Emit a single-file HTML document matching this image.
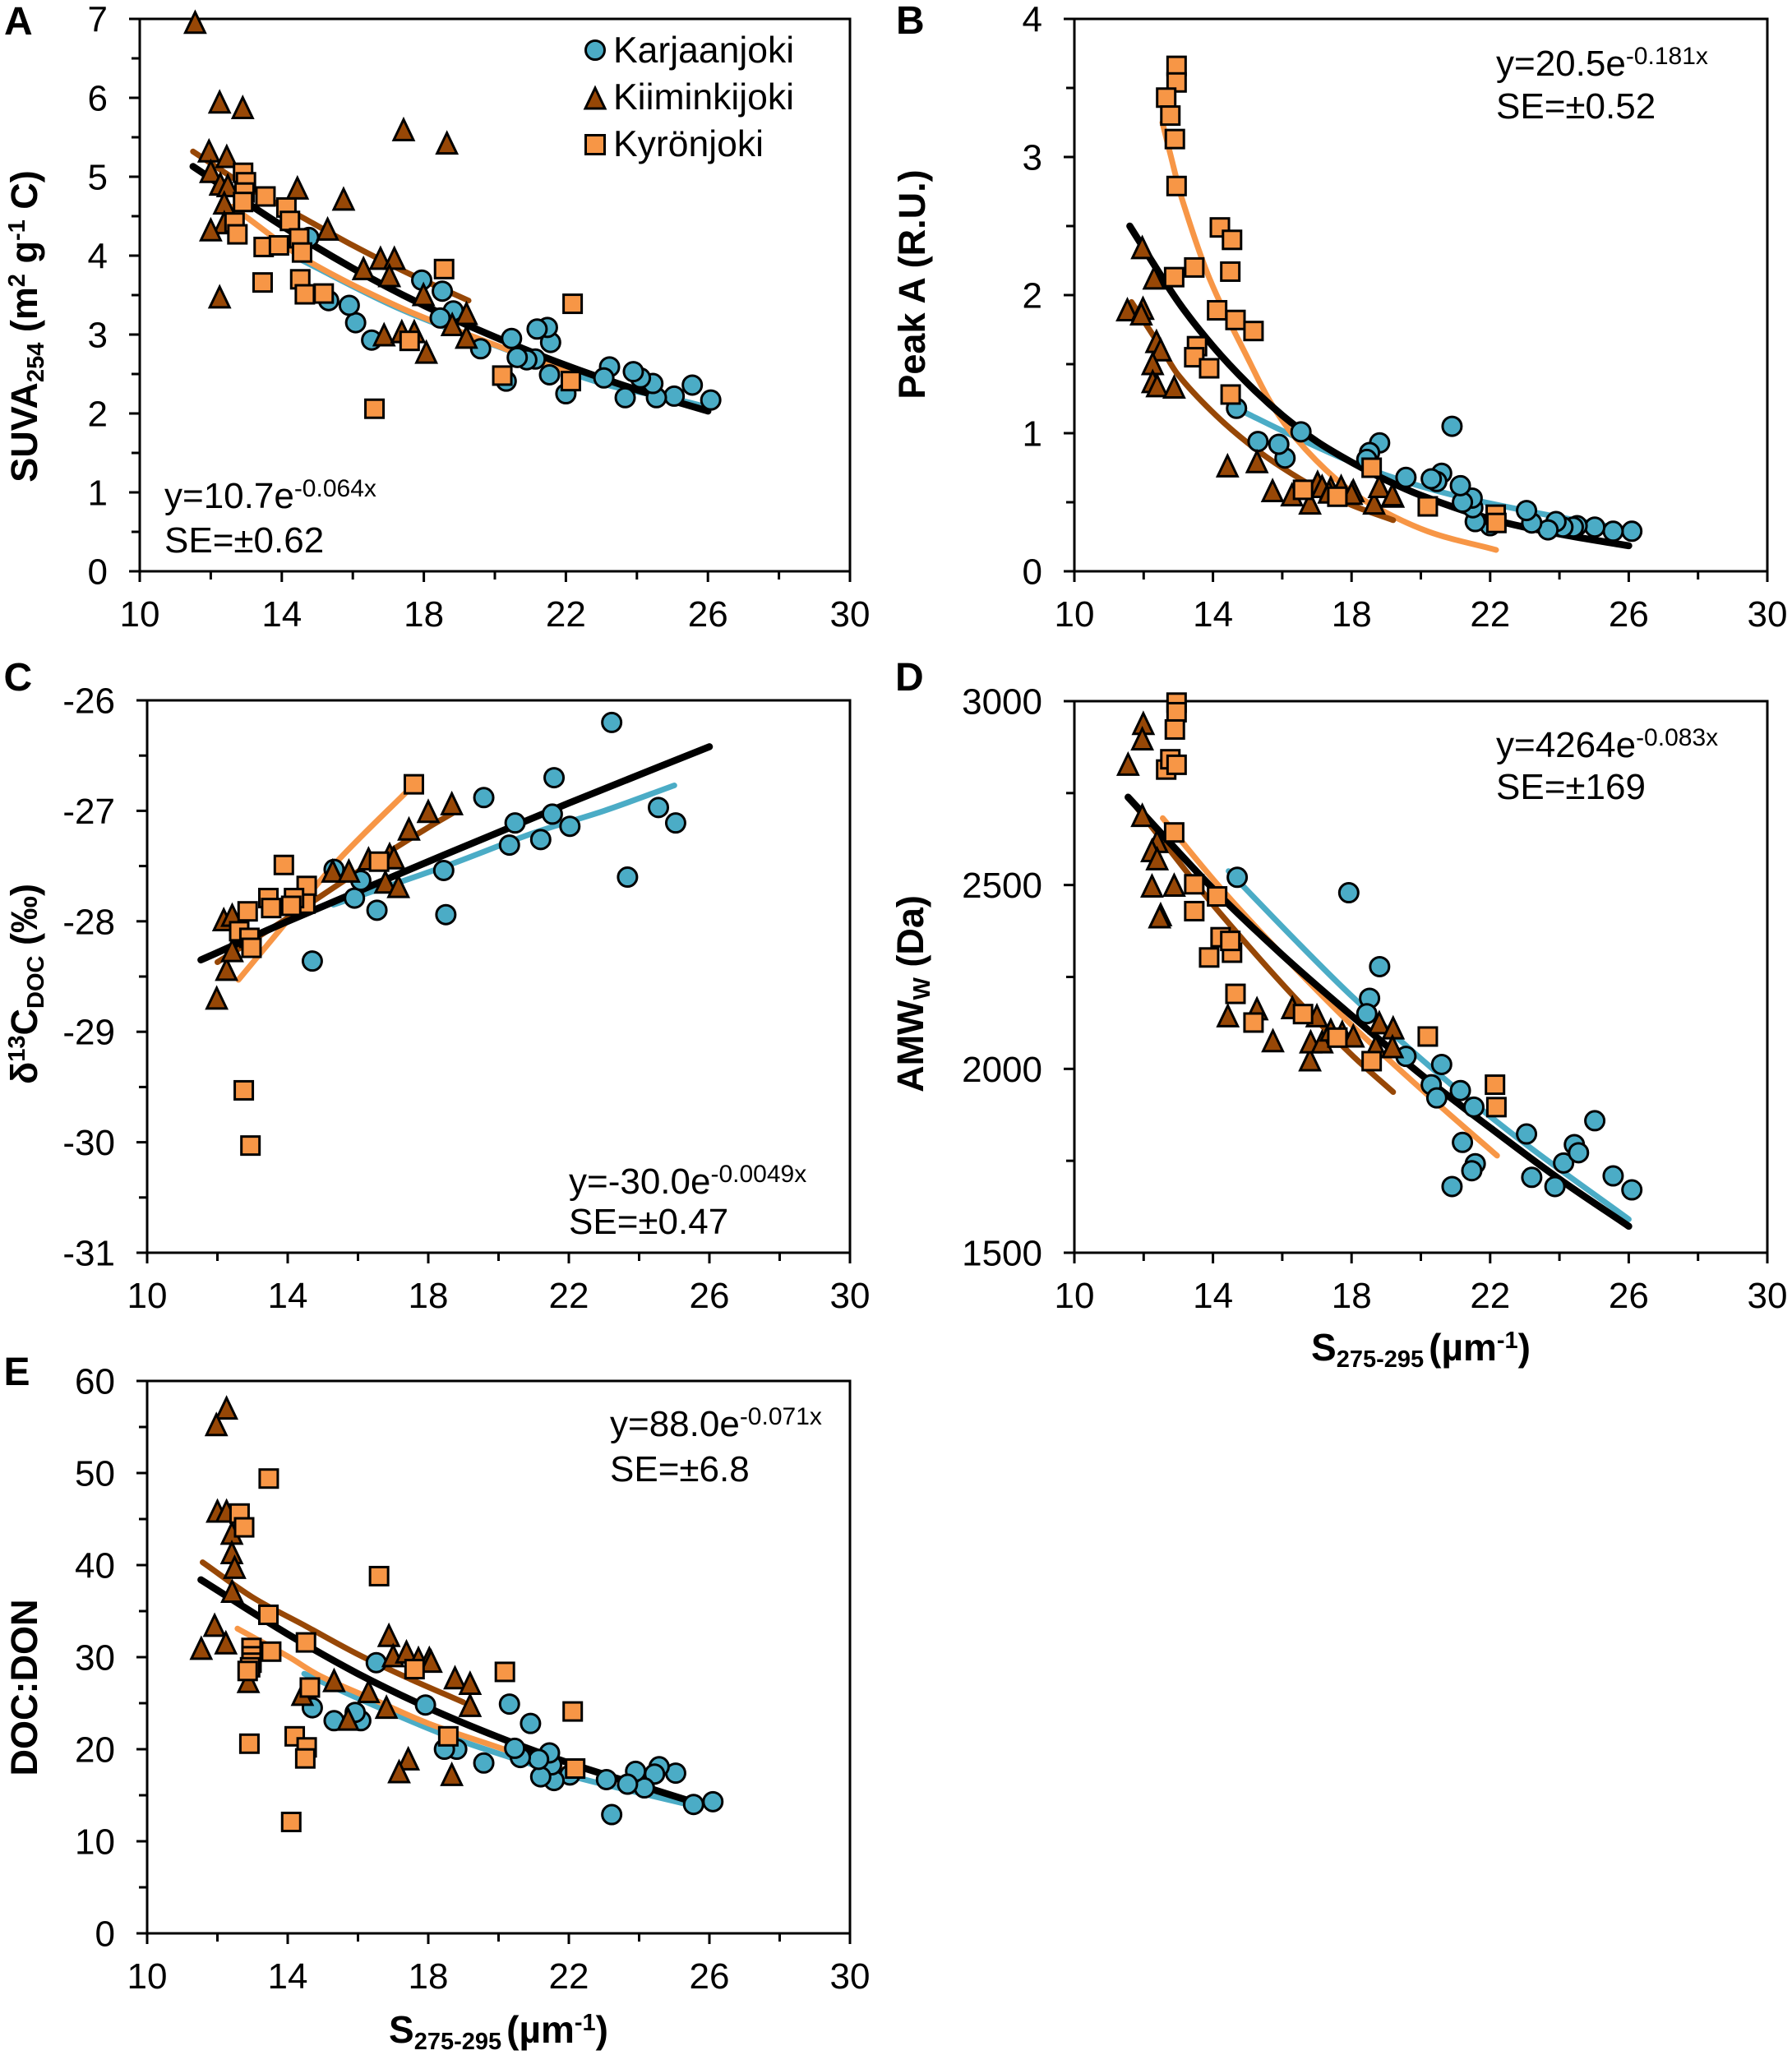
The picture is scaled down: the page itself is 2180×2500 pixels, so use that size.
<!DOCTYPE html>
<html lang="en">
<head>
<meta charset="utf-8">
<title>Optical relationships for Finnish rivers</title>
<style>
html,body{margin:0;padding:0;background:#fff;}
svg{display:block;}
text{font-family:"Liberation Sans",sans-serif;fill:#000;}
.tick{font-size:44px;}
.eq{font-size:44px;}
.sup{font-size:30px;}
.ttl{font-size:45px;font-weight:bold;}
.xttl{font-size:46px;font-weight:bold;}
.sub{font-size:29px;font-weight:bold;}
.let{font-size:48px;font-weight:bold;}
.leg{font-size:44.5px;}
</style>
</head>
<body>
<svg id="chart" xmlns="http://www.w3.org/2000/svg" width="2180" height="2500" viewBox="0 0 2180 2500">
<rect width="2180" height="2500" fill="#fff"/>
<g id="plots"></g>

<text class="let" x="5" y="42">A</text>
<text class="let" x="1090" y="41">B</text>
<text class="let" x="4.5" y="840">C</text>
<text class="let" x="1089" y="840">D</text>
<text class="let" x="4.5" y="1685">E</text>

<text class="ttl" text-anchor="middle" transform="translate(45,397) rotate(-90)">SUVA<tspan class="sub" dy="8">254</tspan><tspan dy="-8"> (m</tspan><tspan class="sub" dy="-15">2</tspan><tspan dy="15"> g</tspan><tspan class="sub" dy="-15">-1</tspan><tspan dy="15"> C)</tspan></text>
<text class="ttl" text-anchor="middle" transform="translate(1125,346) rotate(-90)">Peak A (R.U.)</text>
<text class="ttl" text-anchor="middle" transform="translate(45,1197) rotate(-90)">δ<tspan class="sub" dy="-15">13</tspan><tspan dy="15">C</tspan><tspan class="sub" dy="8">DOC</tspan><tspan dy="-8"> (‰)</tspan></text>
<text class="ttl" text-anchor="middle" transform="translate(1123,1209) rotate(-90)">AMW<tspan class="sub" dy="8">W</tspan><tspan dy="-8"> (Da)</tspan></text>
<text class="ttl" text-anchor="middle" transform="translate(45,2053) rotate(-90)">DOC:DON</text>

<text class="xttl" text-anchor="middle" x="1728.5" y="1655">S<tspan class="sub" dy="8">275-295</tspan><tspan dy="-8" dx="6">(µm</tspan><tspan class="sub" dy="-15">-1</tspan><tspan dy="15">)</tspan></text>
<text class="xttl" text-anchor="middle" x="606.5" y="2485">S<tspan class="sub" dy="8">275-295</tspan><tspan dy="-8" dx="6">(µm</tspan><tspan class="sub" dy="-15">-1</tspan><tspan dy="15">)</tspan></text>

<text class="eq" x="200" y="618">y=10.7e<tspan class="sup" dy="-14">-0.064x</tspan></text>
<text class="eq" x="200" y="672">SE=±0.62</text>
<text class="eq" x="1820" y="92">y=20.5e<tspan class="sup" dy="-14">-0.181x</tspan></text>
<text class="eq" x="1820" y="144">SE=±0.52</text>
<text class="eq" x="692" y="1452">y=-30.0e<tspan class="sup" dy="-14">-0.0049x</tspan></text>
<text class="eq" x="692" y="1501">SE=±0.47</text>
<text class="eq" x="1820" y="921">y=4264e<tspan class="sup" dy="-14">-0.083x</tspan></text>
<text class="eq" x="1820" y="972">SE=±169</text>
<text class="eq" x="742" y="1747">y=88.0e<tspan class="sup" dy="-14">-0.071x</tspan></text>
<text class="eq" x="742" y="1802">SE=±6.8</text>

<g>
<circle cx="724" cy="61" r="11.5" fill="#4bacc6" stroke="#000" stroke-width="3"/>
<polygon points="724,107 736,132 712,132" fill="#974706" stroke="#000" stroke-width="3" stroke-linejoin="miter"/>
<rect x="712.5" y="164.5" width="23" height="23" fill="#f79646" stroke="#000" stroke-width="3"/>
<text class="leg" x="746" y="76">Karjaanjoki</text>
<text class="leg" x="746" y="133">Kiiminkijoki</text>
<text class="leg" x="746" y="190">Kyrönjoki</text>
</g>
</svg>

<script>
// ---------- shared axis data ----------
const xTickLabels = ["10","14","18","22","26","30"];
const xMinorValues = [12,16,20,24,28];

// ---------- panel A: SUVA254 ----------
const aTickLabels = ["0","1","2","3","4","5","6","7"];
const aKarX = [26.08,25.56,25.05,24.55,24.45,24.1,23.9,23.67,23.23,23.07,22.0,21.54,21.57,21.48,21.19,21.14,20.9,20.63,20.47,20.32,19.6,18.83,18.46,18.52,17.94,16.53,16.08,15.9,15.32,14.76];
const aKarY = [2.17,2.36,2.22,2.20,2.38,2.45,2.53,2.20,2.59,2.45,2.25,2.49,2.90,3.09,3.07,2.69,2.68,2.71,2.95,2.41,2.82,3.30,3.21,3.55,3.69,2.93,3.15,3.37,3.43,4.23];
const aKimX = [11.56,12.25,12.9,17.43,18.65,11.95,12.45,12.0,12.27,12.48,12.38,12.38,12.0,12.25,14.44,15.74,15.29,16.3,16.78,17.17,17.03,17.99,19.2,18.8,19.2,16.88,17.38,17.73,18.07];
const aKimY = [6.95,5.94,5.87,5.59,5.42,5.32,5.25,5.06,4.9,4.88,4.66,4.41,4.32,3.47,4.85,4.71,4.33,3.83,3.96,3.96,3.74,3.5,3.26,3.12,2.96,2.99,3.03,3.03,2.77];
const aKyrX = [12.91,12.99,12.95,12.91,13.54,14.13,14.23,12.67,12.75,13.49,13.92,14.49,14.57,13.46,14.52,14.65,15.18,18.57,16.61,17.6,20.21,22.19,22.14];
const aKyrY = [5.05,4.93,4.8,4.68,4.75,4.61,4.44,4.42,4.27,4.11,4.13,4.22,4.04,3.66,3.7,3.51,3.52,3.83,2.06,2.92,2.48,3.39,2.41];
const aFitAllX = [11.5,14,16,18,20,22,24,26];
const aFitAllY = [5.13,4.38,3.84,3.37,2.97,2.61,2.30,2.03];
const aFitKarX = [14.44,17.3,20.2,23.1,25,26];
const aFitKarY = [3.97,3.33,2.83,2.37,2.19,2.08];
const aFitKimX = [11.5,13,14.76,16,17.5,19.26];
const aFitKimY = [5.32,4.88,4.44,4.13,3.79,3.43];
const aFitKyrX = [12.6,13,14.6,17.3,20,22.2];
const aFitKyrY = [4.62,4.49,3.97,3.35,2.87,2.50];

// ---------- panel B: Peak A ----------
const bTickLabels = ["0","1","2","3","4"];
const bKarX = [26.09,25.55,25.02,24.51,24.4,24.1,23.9,23.67,23.2,23.05,22.0,21.57,21.5,21.48,21.2,21.14,20.9,20.6,20.46,20.3,19.57,18.81,18.52,18.44,16.54,16.08,15.9,15.3,14.68];
const bKarY = [0.29,0.29,0.32,0.33,0.32,0.32,0.36,0.30,0.35,0.44,0.33,0.36,0.46,0.53,0.50,0.62,1.05,0.71,0.65,0.67,0.68,0.93,0.86,0.81,1.01,0.82,0.92,0.94,1.18];
const bKimX = [11.96,12.3,11.53,11.98,11.93,12.37,12.49,12.26,12.26,12.39,12.88,14.42,15.27,15.72,16.28,16.8,17.02,17.15,17.4,17.35,17.7,18.05,18.0,18.65,18.8,19.2,19.18];
const bKimY = [2.34,2.12,1.89,1.90,1.86,1.66,1.6,1.5,1.37,1.34,1.33,0.76,0.79,0.58,0.55,0.49,0.64,0.61,0.6,0.57,0.61,0.58,0.56,0.49,0.61,0.54,0.55];
const bKyrX = [12.95,12.95,12.65,12.77,12.9,12.95,14.2,14.55,14.5,12.88,13.46,14.12,14.65,15.17,13.54,13.46,13.89,14.51,18.58,16.6,17.59,20.2,22.16,22.18];
const bKyrY = [3.66,3.54,3.43,3.3,3.13,2.79,2.49,2.40,2.17,2.13,2.2,1.89,1.82,1.74,1.63,1.55,1.47,1.28,0.75,0.59,0.54,0.47,0.41,0.35];
const bFitAllX = [11.6,12,13,14,15,16,17,18,19,20,22,24,26];
const bFitAllY = [2.50,2.34,1.95,1.63,1.36,1.13,0.94,0.79,0.66,0.55,0.38,0.27,0.185];
const bFitKarX = [14.68,16.4,18.4,20.5,23,26];
const bFitKarY = [1.18,0.97,0.75,0.58,0.44,0.30];
const bFitKimX = [11.65,12.5,13,14,15,16,17,18,19.2];
const bFitKimY = [1.95,1.62,1.42,1.15,0.93,0.75,0.6,0.48,0.37];
const bFitKyrX = [12.54,12.78,13.1,13.9,15.09,15.67,16.4,17.56,18.55,20.2,22.17];
const bFitKyrY = [3.25,3.01,2.70,2.12,1.50,1.22,0.96,0.665,0.486,0.289,0.155];

// ---------- panel C: d13C DOC ----------
const cTickLabels = ["-31","-30","-29","-28","-27","-26"];
const cKarX = [23.22,21.58,19.58,21.53,20.47,22.03,25.04,24.55,21.2,20.31,23.67,18.44,18.5,16.54,15.9,16.08,15.32,14.7];
const cKarY = [-26.2,-26.7,-26.88,-27.03,-27.11,-27.14,-27.11,-26.97,-27.26,-27.31,-27.6,-27.54,-27.94,-27.9,-27.79,-27.63,-27.53,-28.36];
const cKimX = [11.98,12.26,12.42,12.18,12.42,15.28,15.74,16.3,16.78,16.9,17.02,17.15,17.45,18.0,18.67];
const cKimY = [-28.7,-28.44,-28.27,-27.99,-27.95,-27.55,-27.55,-27.44,-27.65,-27.4,-27.43,-27.69,-27.17,-27.01,-26.94];
const cKyrX = [17.59,13.89,16.6,14.54,14.5,13.45,13.53,14.18,14.1,12.86,12.62,12.91,12.97,12.75,12.94];
const cKyrY = [-26.76,-27.49,-27.46,-27.68,-27.84,-27.79,-27.88,-27.79,-27.86,-27.91,-28.09,-28.15,-28.24,-29.53,-30.03];
const cFitAllX = [11.53,14,18,22,26];
const cFitAllY = [-28.35,-28.0,-27.46,-26.93,-26.42];
const cFitKarX = [15.3,18.5,21,23,25];
const cFitKarY = [-27.85,-27.5,-27.2,-27.0,-26.77];
const cFitKimX = [12,14,16,18,18.7];
const cFitKimY = [-28.37,-27.97,-27.55,-27.15,-27.02];
const cFitKyrX = [12.6,13.77,15.4,17.6];
const cFitKyrY = [-28.53,-28.08,-27.46,-26.76];

// ---------- panel D: AMWw ----------
const dTickLabels = ["1500","2000","2500","3000"];
const dKarX = [14.7,17.92,18.81,18.52,18.44,19.57,20.6,20.3,20.46,21.14,21.53,21.2,21.57,21.47,20.9,23.05,23.2,23.87,24.12,24.43,24.55,25.02,25.55,26.09];
const dKarY = [2521,2479,2278,2192,2150,2034,2012,1957,1921,1941,1896,1800,1742,1723,1680,1823,1705,1680,1744,1794,1772,1859,1709,1671];
const dKimX = [11.99,11.96,11.55,11.96,12.39,12.24,12.39,12.24,12.88,12.49,12.46,14.43,15.27,15.73,16.29,16.8,16.82,17,17.15,17.4,17.73,18.05,18.8,18.7,19.2,19.18];
const dKimY = [2938,2896,2827,2688,2617,2592,2570,2496,2498,2418,2412,2143,2162,2075,2165,2023,2072,2143,2072,2104,2098,2088,2124,2059,2110,2059];
const dKyrX = [12.95,12.95,12.9,12.65,12.77,12.95,12.88,13.46,13.46,14.12,14.22,13.89,14.55,14.5,14.65,15.17,16.6,17.59,18.58,20.2,22.14,22.18];
const dKyrY = [2996,2970,2923,2814,2842,2827,2643,2502,2429,2469,2358,2303,2316,2348,2204,2126,2149,2085,2021,2088,1957,1896];
const dFitAllX = [11.55,14,16,18,20,22,24,26];
const dFitAllY = [2739,2490,2310,2145,1985,1840,1700,1572];
const dFitKarX = [14.45,16.4,18.05,20.5,23,26];
const dFitKarY = [2538,2348,2194,1987,1797,1591];
const dFitKimX = [11.58,13,14.1,16.4,18.05,19.2];
const dFitKimY = [2737,2565,2435,2190,2034,1937];
const dFitKyrX = [12.55,14.1,15.75,18.05,20.4,22.2];
const dFitKyrY = [2682,2505,2335,2115,1912,1764];

// ---------- panel E: DOC:DON ----------
const eTickLabels = ["0","10","20","30","40","50","60"];
const eKarX = [26.1,25.55,25.04,24.57,24.44,24.15,23.9,23.67,23.22,23.07,22.03,21.58,21.51,21.45,21.2,21.14,20.91,20.62,20.46,20.31,19.58,18.81,18.46,17.92,16.52,16.08,15.92,15.32,14.7];
const eKarY = [14.3,14.0,17.4,18.1,17.3,15.8,17.6,16.2,12.9,16.7,17.2,16.6,18.3,19.6,17.0,18.9,22.8,19.1,20.1,24.9,18.5,20.0,20.0,24.8,29.4,23.1,24.0,23.1,24.5];
const eKimX = [12.26,11.97,12.0,12.26,12.41,12.41,12.49,12.42,11.92,11.54,12.24,12.88,15.32,14.42,15.72,16.3,16.81,16.88,17,17.38,17.72,18.03,18.08,18.76,19.19,19.19,17.43,17.17,18.67];
const eKimY = [57.0,55.2,45.8,45.8,43.4,41.3,39.7,37.1,33.4,30.9,31.5,27.3,27.4,25.9,23.2,26.2,24.5,32.3,30.1,30.5,29.8,29.8,29.5,27.7,27.1,24.7,18.9,17.5,17.2];
const eKyrX = [13.46,12.63,12.76,16.6,13.45,14.52,13.53,12.97,12.97,12.97,12.93,12.86,17.61,20.18,14.63,22.11,12.91,14.2,14.54,14.5,18.57,22.18,14.1];
const eKyrY = [49.4,45.6,44.1,38.8,34.6,31.6,30.6,31.0,30.1,29.4,28.9,28.5,28.7,28.4,26.7,24.1,20.6,21.4,20.2,19.0,21.4,17.9,12.1];
const eFitAllX = [11.53,14,16,18,20,22,24,25.6];
const eFitAllY = [38.4,32.5,28.2,24.5,21.3,18.5,16.1,14.2];
const eFitKarX = [14.47,16.37,18.5,20.1,22.05,25.5];
const eFitKarY = [28.2,24.9,21.5,19.4,17.1,13.9];
const eFitKimX = [11.58,13,14.5,16,17.5,19];
const eFitKimY = [40.3,36.5,33.4,30.3,27.6,25.1];
const eFitKyrX = [12.57,14,14.9,16.5,18,20,22.2];
const eFitKyrY = [33.1,30.1,28.0,25.3,22.8,20.2,17.3];

// ---------- rendering ----------
const NS = 'http://www.w3.org/2000/svg';
const BLUE = '#4bacc6', BROWN = '#974706', ORANGE = '#f79646';
const root = document.getElementById('plots');

function make(tag, attrs, parent) {
  const el = document.createElementNS(NS, tag);
  for (const k in attrs) el.setAttribute(k, attrs[k]);
  parent.appendChild(el);
  return el;
}

function smoothPath(pts) {
  let d = 'M' + pts[0][0].toFixed(1) + ' ' + pts[0][1].toFixed(1);
  for (let i = 0; i < pts.length - 1; i++) {
    const p0 = pts[Math.max(i - 1, 0)], p1 = pts[i], p2 = pts[i + 1], p3 = pts[Math.min(i + 2, pts.length - 1)];
    const k1 = (p2[0] - p1[0]) / (p2[0] - p0[0] || 1) / 3;
    const k2 = (p2[0] - p1[0]) / (p3[0] - p1[0] || 1) / 3;
    const c1x = p1[0] + (p2[0] - p0[0]) * k1, c1y = p1[1] + (p2[1] - p0[1]) * k1;
    const c2x = p2[0] - (p3[0] - p1[0]) * k2, c2y = p2[1] - (p3[1] - p1[1]) * k2;
    d += 'C' + c1x.toFixed(1) + ' ' + c1y.toFixed(1) + ' ' + c2x.toFixed(1) + ' ' + c2y.toFixed(1) + ' ' + p2[0].toFixed(1) + ' ' + p2[1].toFixed(1);
  }
  return d;
}

function drawPanel(p) {
  const g = make('g', {}, root);
  
  
  const yVals = p.yLabels.map(Number);
  const yMin = yVals[0], yMax = yVals[yVals.length - 1];
  const sx = v => p.l + (v - 10) / 20 * (p.r - p.l);
  const sy = v => p.b - (v - yMin) / (yMax - yMin) * (p.b - p.t);

  // frame
  const frame = make('rect', {x: p.l, y: p.t, width: p.r - p.l, height: p.b - p.t, fill: 'none', stroke: '#000', 'stroke-width': 3}, g);
  
  

  // x axis
  xTickLabels.forEach(label => {
    const x = sx(Number(label));
    const tk = make('line', {x1: x, x2: x, y1: p.b, y2: p.b + 13, stroke: '#000', 'stroke-width': 3}, g);
    
    
    const t = make('text', {x: x, y: p.b + 67, 'text-anchor': 'middle', class: 'tick'}, g);
    t.textContent = label;
    
    
  });
  xMinorValues.forEach(v => {
    const x = sx(v);
    const tk = make('line', {x1: x, x2: x, y1: p.b, y2: p.b + 10, stroke: '#000', 'stroke-width': 3}, g);
    
    
  });

  // y axis
  yVals.forEach((v, i) => {
    const y = sy(v);
    const tk = make('line', {x1: p.l - 13, x2: p.l, y1: y, y2: y, stroke: '#000', 'stroke-width': 3}, g);
    
    
    const t = make('text', {x: p.l - 39, y: y + 15.5, 'text-anchor': 'end', class: 'tick'}, g);
    t.textContent = p.yLabels[i];
    
    
    if (i < yVals.length - 1) {
      const ym = sy((v + yVals[i + 1]) / 2);
      const mk = make('line', {x1: p.l - 10, x2: p.l, y1: ym, y2: ym, stroke: '#000', 'stroke-width': 3}, g);
      
      
    }
  });

  // fitted lines
  p.fits.forEach(f => {
    const pts = f.x.map((v, i) => [sx(v), sy(f.y[i])]);
    const line = make('path', {d: smoothPath(pts), fill: 'none', stroke: f.color, 'stroke-width': f.w, 'stroke-linecap': 'round', 'stroke-linejoin': 'round'}, g);
    
    
  });

  // Karjaanjoki points
  p.kar[0].forEach((v, i) => {
    const c = make('circle', {cx: sx(v), cy: sy(p.kar[1][i]), r: 11.5, fill: BLUE, stroke: '#000', 'stroke-width': 3}, g);
    
    
  });
  // Kiiminkijoki points
  p.kim[0].forEach((v, i) => {
    const x = sx(v), y = sy(p.kim[1][i]);
    const pts = [[x, y - 13], [x + 12, y + 12], [x - 12, y + 12]].map(q => q.join(',')).join(' ');
    const tr = make('polygon', {points: pts, fill: BROWN, stroke: '#000', 'stroke-width': 3}, g);
    
    
  });
  // Kyronjoki points
  p.kyr[0].forEach((v, i) => {
    const x = sx(v), y = sy(p.kyr[1][i]);
    const sq = make('rect', {x: x - 11, y: y - 11, width: 22, height: 22, fill: ORANGE, stroke: '#000', 'stroke-width': 3}, g);
    
    
  });
}

function fits(allX, allY, karX, karY, kyrX, kyrY, kimX, kimY) {
  return [
    {name: 'karjaanjoki', color: BLUE, w: 7, x: karX, y: karY},
    {name: 'kyronjoki', color: ORANGE, w: 7, x: kyrX, y: kyrY},
    {name: 'kiiminkijoki', color: BROWN, w: 7, x: kimX, y: kimY},
    {name: 'all-rivers', color: '#000', w: 8.5, x: allX, y: allY}
  ];
}

drawPanel({id: 'a', l: 170, r: 1034, t: 23, b: 695, yLabels: aTickLabels, kar: [aKarX, aKarY], kim: [aKimX, aKimY], kyr: [aKyrX, aKyrY],
  fits: fits(aFitAllX, aFitAllY, aFitKarX, aFitKarY, aFitKyrX, aFitKyrY, aFitKimX, aFitKimY)});
drawPanel({id: 'b', l: 1307, r: 2150, t: 23, b: 695, yLabels: bTickLabels, kar: [bKarX, bKarY], kim: [bKimX, bKimY], kyr: [bKyrX, bKyrY],
  fits: fits(bFitAllX, bFitAllY, bFitKarX, bFitKarY, bFitKyrX, bFitKyrY, bFitKimX, bFitKimY)});
drawPanel({id: 'c', l: 179, r: 1034, t: 852, b: 1524, yLabels: cTickLabels, kar: [cKarX, cKarY], kim: [cKimX, cKimY], kyr: [cKyrX, cKyrY],
  fits: fits(cFitAllX, cFitAllY, cFitKarX, cFitKarY, cFitKyrX, cFitKyrY, cFitKimX, cFitKimY)});
drawPanel({id: 'd', l: 1307, r: 2150, t: 853, b: 1524, yLabels: dTickLabels, kar: [dKarX, dKarY], kim: [dKimX, dKimY], kyr: [dKyrX, dKyrY],
  fits: fits(dFitAllX, dFitAllY, dFitKarX, dFitKarY, dFitKyrX, dFitKyrY, dFitKimX, dFitKimY)});
drawPanel({id: 'e', l: 179, r: 1034, t: 1680, b: 2352, yLabels: eTickLabels, kar: [eKarX, eKarY], kim: [eKimX, eKimY], kyr: [eKyrX, eKyrY],
  fits: fits(eFitAllX, eFitAllY, eFitKarX, eFitKarY, eFitKyrX, eFitKyrY, eFitKimX, eFitKimY)});
</script>
</body>
</html>
